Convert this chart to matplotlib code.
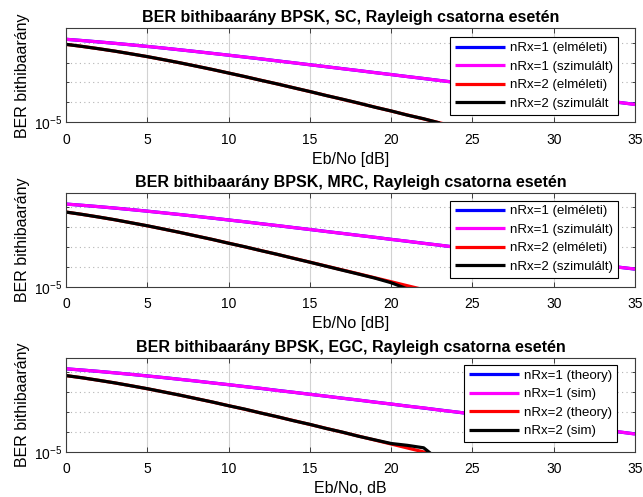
"""
BER of BPSK over a Rayleigh channel, three diversity schemes (SC, MRC, EGC),
1 and 2 receive antennas, theory vs. simulation.
"""

import matplotlib
matplotlib.use("Agg")
import matplotlib.pyplot as plt
from matplotlib.ticker import FixedLocator, NullFormatter, LogFormatterSciNotation

plt.rcParams["font.family"] = ["Liberation Sans", "DejaVu Sans"]

# ----- data -----
ebno_db = list(range(36))

ber1_theory = [0.1464, 0.1267, 0.1085, 0.0919, 0.0771, 0.0642, 0.0530, 0.0435,
               0.0355, 0.0288, 0.0233, 0.0188, 0.0151, 0.0121, 0.00967, 0.00772,
               0.00616, 0.00491, 0.00392, 0.00312, 0.00248, 0.00197, 0.00157,
               0.00125, 0.000992, 0.000789, 0.000627, 0.000498, 0.000396,
               0.000315, 0.000250, 0.000199, 0.000158, 0.000125, 9.95e-5, 7.90e-5]

sc_ber1_sim = [0.1466, 0.1265, 0.1086, 0.0918, 0.0772, 0.0641, 0.0531, 0.0434,
               0.0356, 0.0287, 0.0234, 0.0187, 0.0152, 0.0120, 0.00970, 0.00769,
               0.00618, 0.00489, 0.00394, 0.00310, 0.00249, 0.00196, 0.00158,
               0.00124, 0.000996, 0.000785, 0.000630, 0.000495, 0.000399,
               0.000313, 0.000252, 0.000197, 0.000159, 0.000124, 1.00e-4, 7.80e-5]

mrc_ber1_sim = [0.1463, 0.1268, 0.1084, 0.0920, 0.0770, 0.0643, 0.0529, 0.0436,
                0.0354, 0.0289, 0.0232, 0.0189, 0.0150, 0.0122, 0.00964, 0.00775,
                0.00613, 0.00493, 0.00390, 0.00314, 0.00246, 0.00199, 0.00156,
                0.00126, 0.000988, 0.000792, 0.000624, 0.000501, 0.000393,
                0.000318, 0.000248, 0.000201, 0.000156, 0.000127, 9.85e-5, 8.00e-5]

egc_ber1_sim = [0.1465, 0.1266, 0.1087, 0.0917, 0.0773, 0.0640, 0.0532, 0.0433,
                0.0357, 0.0286, 0.0235, 0.0186, 0.0153, 0.0119, 0.00972, 0.00768,
                0.00620, 0.00488, 0.00395, 0.00309, 0.00251, 0.00195, 0.00159,
                0.00123, 0.001000, 0.000783, 0.000632, 0.000494, 0.000400,
                0.000312, 0.000253, 0.000196, 0.000160, 0.000123, 1.01e-4, 7.75e-5]

sc_ber2_theory = [0.0816, 0.0642, 0.0494, 0.0372, 0.0273, 0.0197, 0.0139, 0.00967,
                  0.00661, 0.00446, 0.00297, 0.00196, 0.00128, 0.000836, 0.000540,
                  0.000347, 0.000222, 0.000142, 9.05e-5, 5.76e-5, 3.66e-5, 2.32e-5,
                  1.47e-5, 9.3e-6, 5.9e-6]
sc_ber2_sim = [0.0815, 0.0643, 0.0493, 0.0373, 0.0272, 0.0198, 0.0139, 0.00969,
               0.00659, 0.00447, 0.00296, 0.00197, 0.00127, 0.000840, 0.000538,
               0.000349, 0.000220, 0.000144, 9.2e-5, 5.7e-5, 3.7e-5, 2.28e-5,
               1.50e-5, 9.1e-6]

mrc_ber2_theory = [0.0581, 0.0441, 0.0328, 0.0238, 0.0169, 0.0118, 0.00813, 0.00551,
                   0.00368, 0.00244, 0.00160, 0.00104, 0.000675, 0.000434, 0.000279,
                   0.000178, 0.000113, 7.21e-5, 4.60e-5, 2.91e-5, 1.84e-5, 1.16e-5,
                   7.39e-6, 4.68e-6]
mrc_ber2_sim = [0.0580, 0.0442, 0.0327, 0.0239, 0.0168, 0.0119, 0.00811, 0.00553,
                0.00366, 0.00245, 0.00158, 0.00105, 0.000668, 0.000437, 0.000275,
                0.000176, 0.000111, 7.0e-5, 4.45e-5, 2.80e-5, 1.64e-5, 8.0e-6]

egc_ber2_theory = [0.0670, 0.0517, 0.0389, 0.0287, 0.0207, 0.0146, 0.0102, 0.00697,
                   0.00470, 0.00314, 0.00207, 0.00136, 0.000881, 0.000570, 0.000367,
                   0.000235, 0.000150, 9.57e-5, 6.09e-5, 3.86e-5, 2.45e-5, 1.55e-5,
                   9.83e-6, 6.22e-6]
egc_ber2_sim = [0.0668, 0.0519, 0.0388, 0.0288, 0.0206, 0.0147, 0.0101, 0.00700,
                0.00468, 0.00316, 0.00205, 0.00138, 0.000876, 0.000575, 0.000362,
                0.000238, 0.000148, 9.7e-5, 6.0e-5, 3.95e-5, 2.6e-5, 2.1e-5,
                1.58e-5, 3.5e-6]

hu_labels = ["nRx=1 (elméleti)", "nRx=1 (szimulált)",
             "nRx=2 (elméleti)", "nRx=2 (szimulált"]
hu_labels_mrc = ["nRx=1 (elméleti)", "nRx=1 (szimulált)",
                 "nRx=2 (elméleti)", "nRx=2 (szimulált)"]
en_labels = ["nRx=1 (theory)", "nRx=1 (sim)", "nRx=2 (theory)", "nRx=2 (sim)"]

COLORS = ["#0000ff", "#ff00ff", "#ff0000", "#000000"]
SPINE = "#3c3c3c"


def draw_panel(ax, series, labels, title, xlabel, legend_anchor):
    for (y, lab), c in zip(zip(series, labels), COLORS):
        ax.plot(ebno_db[:len(y)], y, color=c, lw=2.3, label=lab,
                solid_capstyle="butt")

    ax.set_yscale("log")
    ax.set_xlim(0, 35)
    ax.set_ylim(1e-5, 0.52)
    ax.set_xticks(range(0, 36, 5))
    ax.yaxis.set_major_locator(FixedLocator([1e-5]))
    ax.yaxis.set_major_formatter(LogFormatterSciNotation())
    ax.yaxis.set_minor_locator(FixedLocator([1e-4, 1e-3, 1e-2, 1e-1]))
    ax.yaxis.set_minor_formatter(NullFormatter())

    ax.grid(True, which="major", axis="x", color="#d2d2d2", lw=0.8)
    ax.grid(True, which="minor", axis="y", color="#b4b4b4", lw=0.8,
            linestyle=(0, (1, 3)))

    ax.tick_params(which="both", direction="in", top=True, right=True,
                   colors=SPINE, labelcolor="black", labelsize=10)
    ax.tick_params(which="major", length=3.5, width=0.7)
    ax.tick_params(which="minor", length=2.5, width=0.7)
    ax.tick_params(axis="x", pad=7.5)
    ax.tick_params(axis="y", pad=2.5)
    for s in ax.spines.values():
        s.set_color(SPINE)
        s.set_linewidth(0.8)

    ax.set_title(title, fontsize=11.5, fontweight="bold", pad=4.5)
    ax.set_xlabel(xlabel, fontsize=11.5, labelpad=3.5)
    ax.set_ylabel("BER bithibaarány", fontsize=11.5)
    ax.yaxis.set_label_coords(-0.064, 0.5)

    leg = ax.legend(loc="upper left", bbox_to_anchor=legend_anchor,
                    borderaxespad=0, fontsize=9.5, handlelength=3.8,
                    handletextpad=0.4, borderpad=0.35, labelspacing=0.48,
                    fancybox=False, framealpha=1, edgecolor="black")
    leg.get_frame().set_linewidth(0.8)


def main():
    fig = plt.figure(figsize=(6.43, 4.97), dpi=100)
    left, width, height = 0.1026, 0.885, 0.189
    ax1 = fig.add_axes([left, 0.754, width, height])
    ax2 = fig.add_axes([left, 0.4225, width, height])
    ax3 = fig.add_axes([left, 0.091, width, height])

    draw_panel(ax1, [ber1_theory, sc_ber1_sim, sc_ber2_theory, sc_ber2_sim],
               hu_labels, "BER bithibaarány BPSK, SC, Rayleigh csatorna esetén",
               "Eb/No [dB]", (0.675, 0.904))
    draw_panel(ax2, [ber1_theory, mrc_ber1_sim, mrc_ber2_theory, mrc_ber2_sim],
               hu_labels_mrc, "BER bithibaarány BPSK, MRC, Rayleigh csatorna esetén",
               "Eb/No [dB]", (0.675, 0.921))
    draw_panel(ax3, [ber1_theory, egc_ber1_sim, egc_ber2_theory, egc_ber2_sim],
               en_labels, "BER bithibaarány BPSK, EGC, Rayleigh csatorna esetén",
               "Eb/No, dB", (0.700, 0.926))

    fig.savefig("out.png", dpi=100)


if __name__ == "__main__":
    main()
